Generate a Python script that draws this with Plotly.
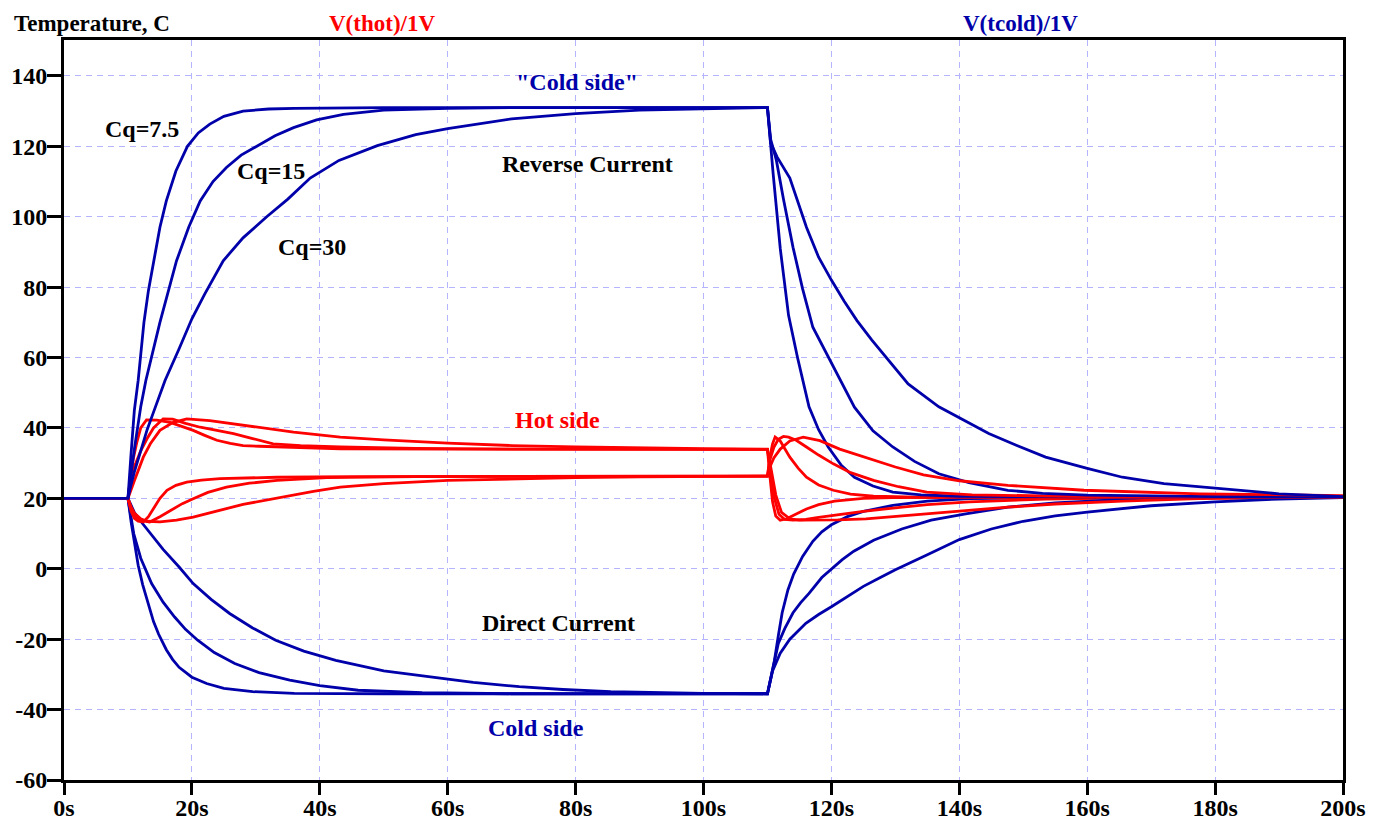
import plotly.graph_objects as go

# ---------------- data ----------------
# Cold side, reverse current (heats up), Cq = 7.5 / 15 / 30
cold_rev_1_t = [0, 10, 10.5, 11, 11.6, 12.5, 13.2, 14, 15, 16, 17.5, 19.3, 21, 22.8, 25, 28, 32, 36, 50, 110, 110.5, 110.9, 112, 113.3, 114.7, 116.5, 118, 119.5, 121.5, 123.6, 126.5, 129.6, 134, 140, 160, 200]
cold_rev_1_v = [20, 20, 33, 45, 53.5, 70, 79, 87.5, 97, 104.5, 113, 120, 123.8, 126.3, 128.5, 130, 130.6, 130.8, 131, 131, 120, 112, 91, 72, 60, 46, 39.5, 34.6, 29.5, 26, 23.5, 21.8, 21, 20.6, 20.4, 20.4]

cold_rev_2_t = [0, 10, 10.5, 11, 12, 12.8, 15, 17.6, 19.5, 21.3, 23.3, 25.4, 27.7, 30.1, 33, 35.9, 39.5, 43.7, 50, 60, 70, 110, 110.5, 111.4, 112.5, 114, 115.5, 117.1, 120.1, 123.6, 126.5, 129.6, 133, 136.8, 141.5, 147.6, 153, 160, 180, 200]
cold_rev_2_v = [20, 20, 27, 34, 46, 53.5, 70, 87.5, 97, 104.5, 110, 114, 117.5, 120, 123, 125.3, 127.5, 129.1, 130.3, 130.8, 131, 131, 122, 116, 105, 91.3, 79.5, 68.6, 58, 45.9, 39.2, 34.6, 30.5, 27, 24.5, 22.3, 21.4, 20.9, 20.5, 20.4]

cold_rev_3_t = [0, 10, 10.5, 11, 12, 13, 14, 15.8, 18, 20, 22, 24.9, 28, 31.7, 35, 38.5, 43, 49, 55, 60, 70, 80, 90, 100, 110, 110.5, 111.5, 113.5, 116.1, 118, 120, 122, 124, 126.3, 128.6, 132, 136.8, 140, 144.6, 149, 153.5, 160, 165.5, 172, 180.5, 190, 200]
cold_rev_3_v = [20, 20, 24, 27.5, 33.5, 39.5, 44.5, 53.5, 62.5, 71, 78, 87.5, 94, 100, 105, 111, 116, 120.2, 123.3, 125, 127.8, 129.3, 130.3, 130.7, 131, 121, 117, 111, 97, 88.5, 82, 76, 70.5, 65, 60, 52.5, 46, 42.8, 38.4, 35, 31.7, 28.5, 26, 24.2, 22.8, 21.3, 20.5]

# Cold side, direct current (cools down)
cold_dir_1_t = [0, 10, 10.5, 11, 11.6, 12.3, 13, 14, 14.8, 16, 17, 18, 20, 22.3, 25, 29.5, 36, 50, 110, 110.5, 111.1, 111.7, 112.3, 113.2, 114.1, 115.5, 117.1, 118.5, 120, 122.5, 125, 129.6, 135, 141.6, 160, 200]
cold_dir_1_v = [20, 20, 13.3, 7.5, 1, -4.5, -9, -15, -18.6, -23, -25.8, -28, -30.8, -32.6, -34, -34.9, -35.4, -35.5, -35.5, -31, -26, -19, -12.5, -6, -1.5, 3.5, 7.8, 10.5, 12.5, 14.8, 16.3, 18, 19.2, 19.9, 20.3, 20.4]

cold_dir_2_t = [0, 10, 10.5, 10.9, 12, 13.7, 15.5, 17.3, 19, 20.9, 23.5, 26.7, 30.5, 35.3, 40, 46, 56, 70, 110, 110.5, 111, 111.7, 112.7, 114, 115.2, 116.5, 118.5, 120, 121.7, 123.5, 126.6, 131, 135.6, 141, 147.6, 155, 165, 180, 200]
cold_dir_2_v = [20, 20, 14.5, 10, 3, -4.2, -9.5, -13.7, -17.2, -20.3, -23.8, -26.9, -29.5, -31.6, -33.2, -34.5, -35.2, -35.5, -35.5, -31.5, -27.5, -21.2, -17, -12.5, -9.6, -7, -2.5, 0, 2.6, 5, 8.1, 11.3, 13.8, 15.6, 17.5, 18.7, 19.6, 20.2, 20.4]

cold_dir_3_t = [0, 10, 10.5, 11, 12, 13.7, 15.5, 18, 20.2, 23, 25.9, 29.5, 33.1, 37.5, 42.5, 50, 56.8, 64, 71.2, 78, 85.5, 92, 99.9, 110, 110.4, 110.8, 112, 113.5, 116, 118, 120, 122.5, 125, 127.5, 130, 135, 140, 145, 150, 155, 160, 170, 180, 190, 200]
cold_dir_3_v = [20, 20, 18, 16, 13.5, 9.5, 5.5, 0.5, -4.2, -8.7, -12.7, -16.8, -20.3, -23.4, -26, -29, -30.7, -32.3, -33.5, -34.3, -34.9, -35.2, -35.4, -35.5, -32, -29, -24, -20, -15.5, -13, -10.8, -7.8, -5, -2.6, -0.3, 4, 8.3, 11.3, 13.5, 15, 16.1, 17.9, 19, 19.8, 20.2]

# Hot side, reverse current
hot_rev_1_t = [0, 10, 10.5, 11, 11.6, 12.4, 13.2, 14, 15, 16.1, 17.5, 19.2, 21.5, 24.4, 28, 33.3, 45, 110, 110.4, 110.8, 111.2, 112, 113.5, 114.8, 116.1, 118, 120.3, 123, 126.6, 135, 150, 200]
hot_rev_1_v = [20, 20, 16.3, 14.3, 13.5, 13.3, 14.8, 17.3, 20, 22.3, 23.7, 24.6, 25.2, 25.6, 25.8, 26, 26.2, 26.3, 32, 35.5, 37.4, 36.3, 31.7, 28.6, 26, 23.8, 22.3, 21.2, 20.6, 20.3, 20.3, 20.3]

hot_rev_2_t = [0, 10, 10.5, 11, 12, 13.4, 15, 16.6, 18.5, 20.2, 22.5, 25.4, 29, 33.3, 41.1, 55, 110, 110.4, 111, 111.7, 112.5, 113.3, 114.5, 116.1, 118, 120.3, 123, 126.6, 130.5, 134.9, 142, 160, 200]
hot_rev_2_v = [20, 20, 17, 15, 13.7, 13.3, 14.8, 16.6, 18.5, 19.9, 21.7, 23.2, 24.3, 25.1, 25.9, 26.2, 26.3, 31, 34.5, 36.8, 37.6, 37.4, 36.5, 34.6, 32.3, 29.8, 27.3, 25.1, 23.3, 21.8, 21, 20.5, 20.4]

hot_rev_3_t = [0, 10, 10.5, 11, 12, 13, 15, 17.6, 20.2, 22.8, 25.4, 28, 30.6, 33.3, 35.9, 39, 43.2, 50, 60, 70, 80, 90, 100, 110, 110.4, 111, 112, 113.5, 115.6, 118.2, 121.3, 124, 126.6, 130, 134.4, 140, 147.6, 159.5, 177.5, 200]
hot_rev_3_v = [20, 20, 17.5, 15.8, 14.2, 13.5, 13.3, 13.8, 14.7, 15.8, 17.1, 18.3, 19.2, 20.2, 20.9, 22, 23.2, 24.2, 25.1, 25.6, 25.9, 26.1, 26.2, 26.3, 29, 31.5, 34, 36.3, 37.4, 36.4, 34, 32.4, 31, 28.9, 26.7, 25, 23.7, 22.3, 21.3, 20.8]

# Hot side, direct current
hot_dir_1_t = [0, 10, 10.4, 10.8, 11.4, 12, 12.9, 14.5, 16.6, 18.5, 20.2, 22, 23.9, 26, 28, 30.5, 33.3, 38, 43.2, 60, 110, 110.4, 110.8, 111.3, 112, 113, 114.7, 116.1, 118, 120.5, 125, 129.6, 140, 200]
hot_dir_1_v = [20, 20, 26, 31, 36, 40, 42.3, 42.2, 41.6, 40.5, 39.3, 37.9, 36.5, 35.6, 35, 34.8, 34.6, 34.3, 34.1, 34, 33.9, 26, 19, 15, 13.8, 14.2, 15.7, 17, 18.2, 19.2, 20, 20.2, 20.3, 20.3]

hot_dir_2_t = [0, 10, 10.5, 11, 12, 13, 14, 15.5, 17, 19, 21.3, 24, 26.5, 29.5, 32.7, 37, 43.2, 55, 70, 110, 110.5, 111.1, 111.8, 112.7, 114, 116, 118, 120.7, 125, 129.6, 135, 141.6, 153.5, 170, 200]
hot_dir_2_v = [20, 20, 25, 29, 33.5, 37, 40, 42.6, 42.5, 41.3, 40.2, 39.3, 38.4, 37, 35.5, 35, 34.6, 34.2, 34, 33.9, 27, 20, 15.5, 14, 13.8, 14, 14.6, 15.3, 16.3, 17.2, 18.2, 19, 19.8, 20.2, 20.3]

hot_dir_3_t = [0, 10, 11, 12, 12.4, 13.5, 15, 17, 19.2, 22.8, 28.6, 35.9, 43.2, 50, 60, 70, 80, 90, 100, 110, 110.6, 111.3, 112.2, 113.5, 115, 118, 121, 125.4, 130, 135.6, 141, 147.6, 155, 165.5, 177.5, 190, 200]
hot_dir_3_v = [20, 20, 25, 29.5, 31.7, 35.5, 39.3, 41.5, 42.6, 42.1, 40.7, 38.8, 37.4, 36.6, 35.7, 35, 34.6, 34.3, 34.1, 34, 28, 21, 16, 14.2, 13.8, 13.8, 13.9, 14.2, 14.9, 15.7, 16.6, 17.5, 18.4, 19.2, 19.9, 20.2, 20.3]

x_ticks = [0, 20, 40, 60, 80, 100, 120, 140, 160, 180, 200]
x_tick_labels = ["0s", "20s", "40s", "60s", "80s", "100s", "120s", "140s", "160s", "180s", "200s"]
y_ticks = [-60, -40, -20, 0, 20, 40, 60, 80, 100, 120, 140]
y_tick_labels = ["-60", "-40", "-20", "0", "20", "40", "60", "80", "100", "120", "140"]

# ---------------- styling ----------------
BLUE = "#0000AA"
RED = "#FF0000"
FONT = "Liberation Serif"
LW = 2.8

fig = go.Figure()

steps = [
    (hot_dir_1_t, hot_dir_1_v, cold_dir_1_t, cold_dir_1_v),
    (hot_dir_2_t, hot_dir_2_v, cold_dir_2_t, cold_dir_2_v),
    (hot_dir_3_t, hot_dir_3_v, cold_dir_3_t, cold_dir_3_v),
    (hot_rev_1_t, hot_rev_1_v, cold_rev_1_t, cold_rev_1_v),
    (hot_rev_2_t, hot_rev_2_v, cold_rev_2_t, cold_rev_2_v),
    (hot_rev_3_t, hot_rev_3_v, cold_rev_3_t, cold_rev_3_v),
]
for ht, hv, ct, cv in steps:
    fig.add_trace(go.Scatter(x=ht, y=hv, mode="lines",
                             line=dict(color=RED, width=LW, shape="linear"),
                             showlegend=False, hoverinfo="skip"))
    fig.add_trace(go.Scatter(x=ct, y=cv, mode="lines",
                             line=dict(color=BLUE, width=LW, shape="linear"),
                             showlegend=False, hoverinfo="skip"))

axis_common = dict(
    showgrid=True, gridcolor="#B4B4FF", gridwidth=1, griddash="6px,5px",
    showline=True, linecolor="black", linewidth=3, mirror=True,
    ticks="outside", tickwidth=3, tickcolor="black",
    tickfont=dict(family=FONT, size=24, color="black", weight="bold"),
    zeroline=False, automargin=False,
)

fig.update_xaxes(range=[0, 200], tickvals=x_ticks, ticktext=x_tick_labels, ticklen=12,
                 ticklabelstandoff=-8, **axis_common)
fig.update_yaxes(range=[-60, 150.2], tickvals=y_ticks, ticktext=y_tick_labels, ticklen=14,
                 ticklabelstandoff=-5, **axis_common)

def txt(x, y, s, color="black", size=24, xref="x", yref="y", xanchor="center"):
    fig.add_annotation(x=x, y=y, xref=xref, yref=yref, text=s, showarrow=False,
                       xanchor=xanchor, yanchor="middle", borderpad=0,
                       font=dict(family=FONT, size=size, color=color, weight="bold"))

# header texts
txt(-0.040, 1.022, "Temperature, C", xref="paper", yref="paper", xanchor="left", size=23)
txt(0.249, 1.022, "V(thot)/1V", color=RED, xref="paper", yref="paper", size=23)
txt(0.748, 1.022, "V(tcold)/1V", color=BLUE, xref="paper", yref="paper", size=23)

# in-plot labels
txt(12.2, 125, "Cq=7.5")
txt(32.4, 113, "Cq=15")
txt(38.8, 91.3, "Cq=30")
txt(80.2, 138.3, "\"Cold side\"", color=BLUE)
txt(81.9, 115, "Reverse Current")
txt(77.1, 42.4, "Hot side", color=RED)
txt(77.3, -15.5, "Direct Current")
txt(73.8, -45.2, "Cold side", color=BLUE)

# the page adds an 8px body margin, so the figure is sized/offset to compensate
fig.update_layout(
    width=1378, height=812,
    margin=dict(l=56, r=43, t=32, b=40),
    paper_bgcolor="white", plot_bgcolor="white",
    showlegend=False,
)

fig.write_html("out.html")
